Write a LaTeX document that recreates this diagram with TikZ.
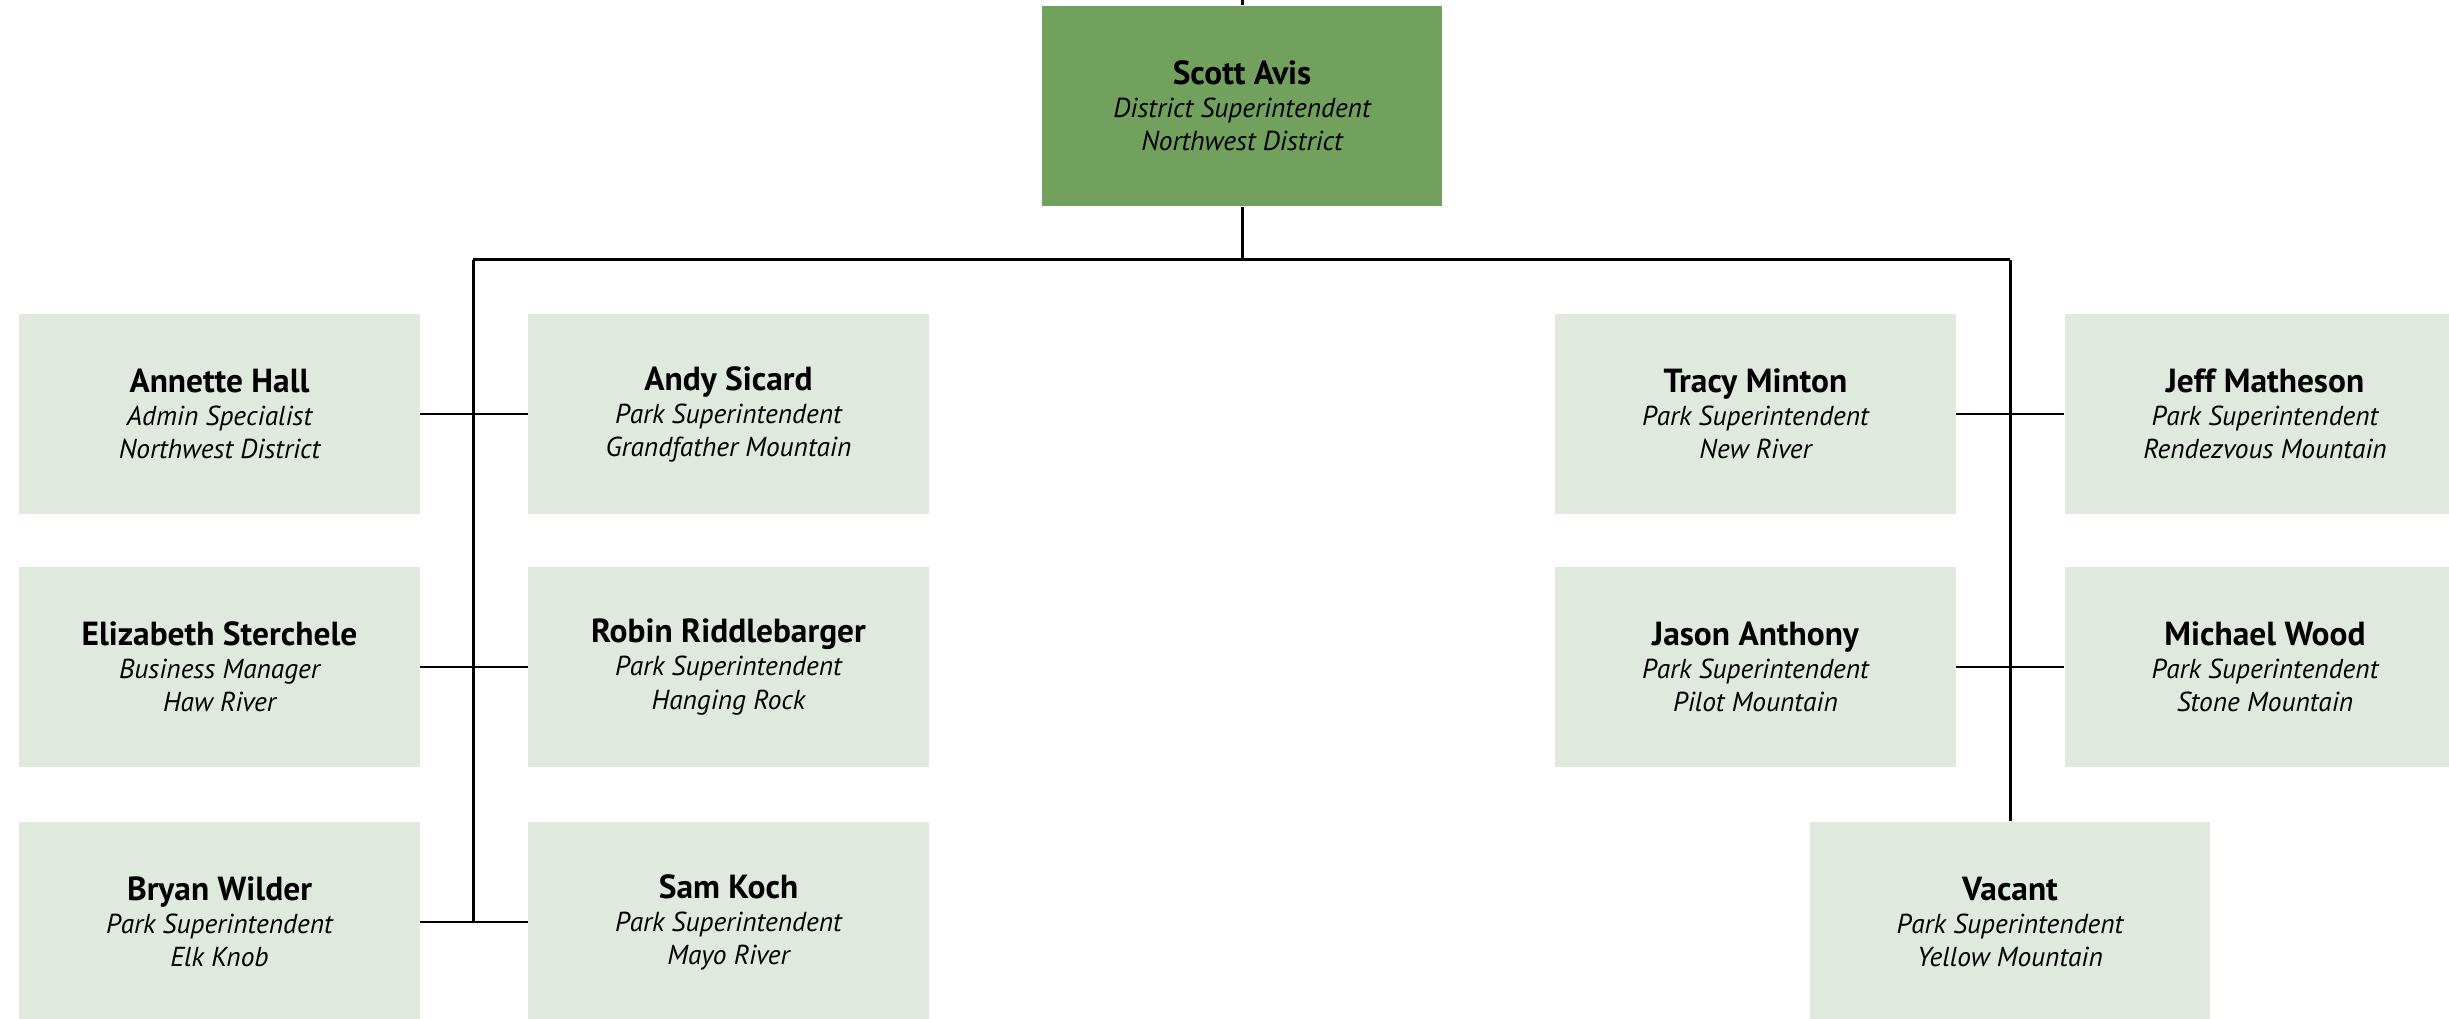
\documentclass[tikz,border=0pt]{standalone}
\usepackage{fontspec}
\setmainfont{PT Sans}
\definecolor{boss}{RGB}{113,161,93}
\definecolor{staff}{RGB}{224,233,221}
\newcommand{\nm}[1]{{\fontsize{9.5}{9.6}\selectfont\bfseries #1}}
\newcommand{\rl}[1]{{\fontsize{7.8}{9.4}\selectfont\itshape #1}}
\begin{document}
\begin{tikzpicture}[x=0.01cm,y=-0.01cm,
  box/.style={rectangle, fill=staff, minimum width=4cm, minimum height=2cm, inner sep=0pt, align=center, text=black, font=\fontsize{7.8}{9.4}\selectfont},
  topbox/.style={box, fill=boss},
  link/.style={draw=black, line width=0.85pt}]
\useasboundingbox (0,0) rectangle (2449,1019);
\node[topbox] (scott) at (1242,106) {\nm{Scott Avis}\\\rl{District Superintendent}\\\rl{Northwest District}};
\node[box] (annette) at (219.5,414) {\nm{Annette Hall}\\\rl{Admin Specialist}\\\rl{Northwest District}};
\node[box] (andy) at (728.5,414) {\nm{Andy Sicard}\\\rl{Park Superintendent}\\\rl{Grandfather Mountain}};
\node[box] (elizabeth) at (219.5,667) {\nm{Elizabeth Sterchele}\\\rl{Business Manager}\\\rl{Haw River}};
\node[box] (robin) at (728.5,667) {\nm{Robin Riddlebarger}\\\rl{Park Superintendent}\\\rl{Hanging Rock}};
\node[box] (bryan) at (219.5,922) {\nm{Bryan Wilder}\\\rl{Park Superintendent}\\\rl{Elk Knob}};
\node[box] (sam) at (728.5,922) {\nm{Sam Koch}\\\rl{Park Superintendent}\\\rl{Mayo River}};
\node[box] (tracy) at (1755.5,414) {\nm{Tracy Minton}\\\rl{Park Superintendent}\\\rl{New River}};
\node[box] (jeff) at (2265,414) {\nm{Jeff Matheson}\\\rl{Park Superintendent}\\\rl{Rendezvous Mountain}};
\node[box] (jason) at (1755.5,667) {\nm{Jason Anthony}\\\rl{Park Superintendent}\\\rl{Pilot Mountain}};
\node[box] (michael) at (2265,667) {\nm{Michael Wood}\\\rl{Park Superintendent}\\\rl{Stone Mountain}};
\node[box] (vacant) at (2010,922) {\nm{Vacant}\\\rl{Park Superintendent}\\\rl{Yellow Mountain}};
\coordinate (up) at (1242,0);
\coordinate (bus) at (1242,260);
\coordinate (lt) at (473,260);
\coordinate (rt) at (2010,260);
\coordinate (lb) at (473,922);
\draw[link] (up) -- (scott.north);
\draw[link] (scott.south) -- (bus);
\draw[link] (lt) -- (rt);
\draw[link] (lt) -- (lb);
\draw[link] (rt) -- (vacant.north);
\draw[link] (annette.east) -- (andy.west);
\draw[link] (elizabeth.east) -- (robin.west);
\draw[link] (bryan.east) -- (sam.west);
\draw[link] (tracy.east) -- (jeff.west);
\draw[link] (jason.east) -- (michael.west);
\end{tikzpicture}
\end{document}
